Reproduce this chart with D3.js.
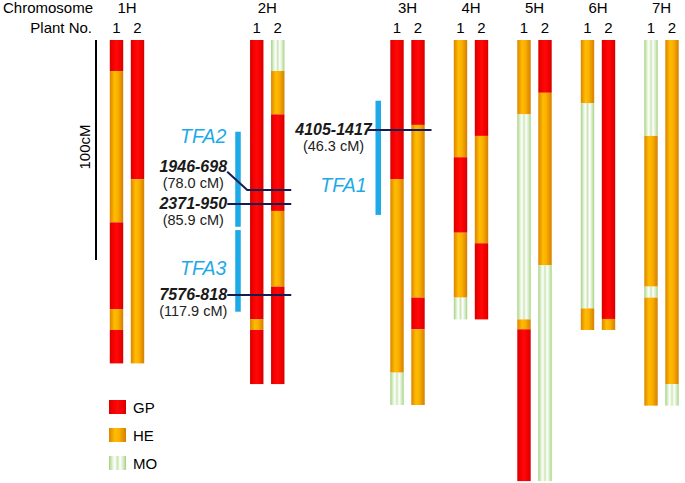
<!DOCTYPE html>
<html>
<head>
<meta charset="utf-8">
<script src="https://cdn.jsdelivr.net/npm/d3@7"></script>
<style>
    body { margin: 0; background: #fff; }
    text { font-family: "Liberation Sans", Arial, sans-serif; }
</style>
</head>
<body>
<div id="chart"></div>
<script>

// Chromosomes and plants
const chromosomes = ["1H", "2H", "3H", "4H", "5H", "6H", "7H"]
const plants = [1, 2]
const genotypes = ["GP", "HE", "MO"]

// Haplotype blocks: [chromosome, plant, breakpoints (map units), genotype of each block]
const haplotypes = [
    ["1H", 1, [0, 14.1, 82.9, 122.3, 131.8, 147.0], ["GP", "HE", "GP", "HE", "GP"]],
    ["1H", 2, [0, 63.3, 147.0], ["GP", "HE"]],
    ["2H", 1, [0, 127.0, 131.8, 156.4], ["GP", "HE", "GP"]],
    ["2H", 2, [0, 14.1, 33.8, 77.7, 112.1, 156.4], ["MO", "HE", "GP", "HE", "GP"]],
    ["3H", 1, [0, 63.2, 151.2, 165.9], ["GP", "HE", "MO"]],
    ["3H", 2, [0, 38.6, 117.1, 131.5, 165.9], ["GP", "HE", "GP", "HE"]],
    ["4H", 1, [0, 53.3, 87.6, 117.1, 127.0], ["HE", "GP", "HE", "MO"]],
    ["4H", 2, [0, 43.6, 92.4, 127.0], ["GP", "HE", "GP"]],
    ["5H", 1, [0, 33.8, 127.0, 131.5, 200.5], ["HE", "MO", "HE", "GP"]],
    ["5H", 2, [0, 24.0, 102.4, 200.5], ["GP", "HE", "MO"]],
    ["6H", 1, [0, 28.8, 122.0, 131.8], ["HE", "MO", "HE"]],
    ["6H", 2, [0, 126.8, 131.8], ["GP", "HE"]],
    ["7H", 1, [0, 43.6, 112.1, 117.1, 166.2], ["MO", "HE", "MO", "HE"]],
    ["7H", 2, [0, 156.4, 166.2], ["HE", "MO"]]
]

// Markers: name, genetic position, chromosome, drawn position, label position
const markers = [
    {name: "1946-698", cM: "78.0", chr: "2H", pos: 68.2, labelAt: 57.6},
    {name: "2371-950", cM: "85.9", chr: "2H", pos: 74.5, labelAt: 74.5},
    {name: "7576-818", cM: "117.9", chr: "2H", pos: 115.9, labelAt: 115.9},
    {name: "4105-1417", cM: "46.3", chr: "3H", pos: 40.9, labelAt: 40.9}
]

// QTL regions
const qtls = [
    {name: "TFA1", chr: "3H", start: 27.6, end: 79.5, labelAt: 69.1},
    {name: "TFA2", chr: "2H", start: 41.7, end: 84.9, labelAt: 46.8},
    {name: "TFA3", chr: "2H", start: 86.4, end: 123.5, labelAt: 106.8}
]

const scaleBar = [0, 100]

let svg = d3.select("#chart").append("svg")
    .attr("width", 685)
    .attr("height", 483)

// Gradients for the bar fills
let defs = svg.append("defs")
let gradStops = {
    GP: [[0, "#d40000"], [0.2, "#f20000"], [0.5, "#ff0808"], [0.8, "#f00000"], [1, "#d20000"]],
    HE: [[0, "#dc8400"], [0.35, "#ffbc00"], [0.6, "#fab000"], [1, "#d67e00"]],
    MO: [[0, "#a4d180"], [0.2, "#e0f1d3"], [0.35, "#ffffff"], [0.5, "#cbe6b5"], [0.65, "#ffffff"], [0.85, "#d2eac0"], [1, "#a4d180"]]
}
genotypes.forEach(g => {
    let lg = defs.append("linearGradient")
        .attr("id", "grad" + g)
        .attr("x1", 0).attr("x2", 1).attr("y1", 0).attr("y2", 0)
    lg.selectAll("stop")
        .data(gradStops[g])
        .enter()
        .append("stop")
        .attr("offset", d => d[0])
        .attr("stop-color", d => d[1])
})

// Scales
let xScale = d3.scaleLinear()
    .domain([0, 2, 6])
    .range([127, 407.5, 661.5])
let chrX = c => xScale(chromosomes.indexOf(c))
let plantOffset = d3.scalePoint().domain(plants).range([-10.5, 10.5])
let yScale = d3.scaleLinear().domain([0, 100]).range([40, 260])
let barW = 13.4

// Headings
svg.append("text")
    .text("Chromosome")
    .attr("x", 93).attr("y", 13)
    .attr("text-anchor", "end")
    .style("font-size", "15px")

svg.append("text")
    .text("Plant No.")
    .attr("x", 92).attr("y", 33)
    .attr("text-anchor", "end")
    .style("font-size", "15px")

svg.append("g").selectAll("text")
    .data(chromosomes)
    .enter()
    .append("text")
    .text(d => d)
    .attr("x", d => chrX(d))
    .attr("y", 13)
    .attr("text-anchor", "middle")
    .style("font-size", "15px")

let plantLabels = []
chromosomes.forEach(c => plants.forEach(p => plantLabels.push({chr: c, plant: p})))
svg.append("g").selectAll("text")
    .data(plantLabels)
    .enter()
    .append("text")
    .text(d => d.plant)
    .attr("x", d => chrX(d.chr) + plantOffset(d.plant))
    .attr("y", 33)
    .attr("text-anchor", "middle")
    .style("font-size", "15px")

// 100cM scale bar
svg.append("line")
    .attr("x1", 96).attr("x2", 96)
    .attr("y1", yScale(scaleBar[0]))
    .attr("y2", yScale(scaleBar[1]))
    .attr("stroke", "black")
    .attr("stroke-width", 2)

svg.append("text")
    .text("100cM")
    .attr("transform", "translate(90," + (yScale((scaleBar[0] + scaleBar[1]) / 2) - 3) + ") rotate(-90)")
    .attr("text-anchor", "middle")
    .style("font-size", "15px")

// Adding haplotype blocks
let blocks = []
haplotypes.forEach(h => {
    for (let i = 0; i < h[3].length; i++) {
        blocks.push({chr: h[0], plant: h[1], start: h[2][i], end: h[2][i + 1], type: h[3][i]})
    }
})

svg.append("g")
    .attr("id", "blocks")
    .selectAll("rect")
    .data(blocks)
    .enter()
    .append("rect")
    .attr("x", d => chrX(d.chr) + plantOffset(d.plant) - barW / 2)
    .attr("width", barW)
    .attr("y", d => yScale(d.start))
    .attr("height", d => yScale(d.end) - yScale(d.start))
    .style("fill", d => "url(#grad" + d.type + ")")

// QTL bars and names
let qtlG = svg.append("g").attr("id", "qtls")
qtlG.selectAll("rect")
    .data(qtls)
    .enter()
    .append("rect")
    .attr("x", d => chrX(d.chr) - 32)
    .attr("width", 5.5)
    .attr("y", d => yScale(d.start))
    .attr("height", d => yScale(d.end) - yScale(d.start))
    .style("fill", "#1eaae6")

qtlG.selectAll("text")
    .data(qtls)
    .enter()
    .append("text")
    .text(d => d.name)
    .attr("x", d => chrX(d.chr) - 41)
    .attr("y", d => yScale(d.labelAt))
    .attr("text-anchor", "end")
    .style("font-size", "19.5px")
    .style("font-style", "italic")
    .style("fill", "#1eaae6")

// Marker lines and labels
let markG = svg.append("g").attr("id", "markers")
markG.selectAll("path")
    .data(markers)
    .enter()
    .append("path")
    .attr("d", d => {
        let x = chrX(d.chr)
        let y = yScale(d.pos)
        let yl = yScale(d.labelAt)
        if (yl == y) return "M" + (x - 40) + "," + y + "H" + (x + 24)
        return "M" + (x - 40) + "," + (yl + 5) + "L" + (x - 20) + "," + y + "H" + (x + 24)
    })
    .attr("fill", "none")
    .attr("stroke", "#161b52")
    .attr("stroke-width", 2)

markG.selectAll("text.name")
    .data(markers)
    .enter()
    .append("text")
    .attr("class", "name")
    .text(d => d.name)
    .attr("x", d => chrX(d.chr) - 74)
    .attr("y", d => yScale(d.labelAt) + 5)
    .attr("text-anchor", "middle")
    .style("font-size", "16px")
    .style("font-weight", "bold")
    .style("font-style", "italic")
    .style("fill", "#1a1a1a")

markG.selectAll("text.cm")
    .data(markers)
    .enter()
    .append("text")
    .attr("class", "cm")
    .text(d => "(" + d.cM + " cM)")
    .attr("x", d => chrX(d.chr) - 74)
    .attr("y", d => yScale(d.labelAt) + 21)
    .attr("text-anchor", "middle")
    .style("font-size", "14.5px")
    .style("fill", "#222")

// Legend
let legend = svg.append("g")
    .attr("id", "legend")
    .selectAll("g")
    .data(genotypes)
    .enter()
    .append("g")
    .attr("transform", (d, i) => "translate(109," + (400 + i * 28) + ")")

legend.append("rect")
    .attr("width", 17)
    .attr("height", 14)
    .style("fill", d => "url(#grad" + d + ")")

legend.append("text")
    .text(d => d)
    .attr("x", 24)
    .attr("y", 13)
    .style("font-size", "15px")

</script>
</body>
</html>
